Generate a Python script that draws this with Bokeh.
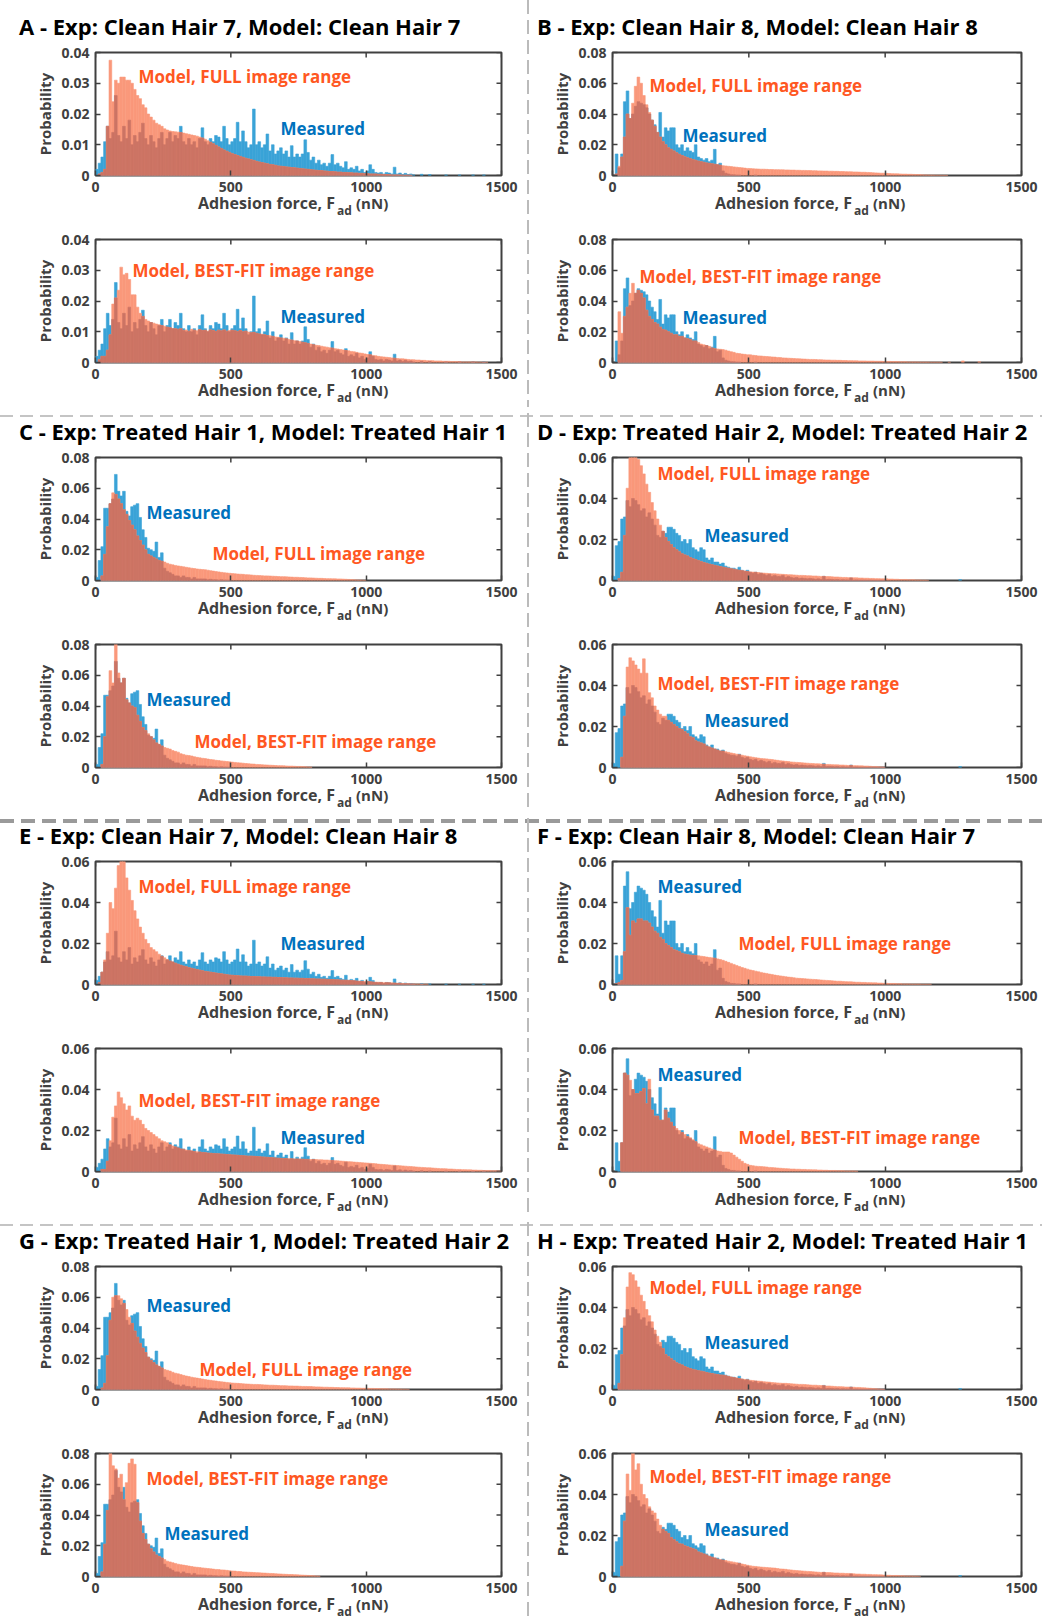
import numpy as np
from bokeh.plotting import figure
from bokeh.layouts import column, row
from bokeh.models import Label, Div, FixedTicker, PrintfTickFormatter, Range1d
from bokeh.embed import file_html
from bokeh.resources import INLINE

# ---------------- data (probability per 10 nN bin, first bin starts at 0 nN) ----------------
BIN_WIDTH = 10.0
N_BINS = 150
X_TICKS = [0, 500, 1000, 1500]
Y_TICKS_004 = [0, 0.01, 0.02, 0.03, 0.04]
Y_TICKS_006 = [0, 0.02, 0.04, 0.06]
Y_TICKS_008 = [0, 0.02, 0.04, 0.06, 0.08]

measured_clean_hair_7 = [
    0.002, 0.004, 0.006, 0.011, 0.016, 0.012, 0.014, 0.026, 0.013, 0.011,
    0.016, 0.012, 0.018, 0.010, 0.013, 0.011, 0.014, 0.017, 0.012, 0.010,
    0.013, 0.011, 0.009, 0.012, 0.014, 0.010, 0.012, 0.014, 0.011, 0.013,
    0.012, 0.016, 0.011, 0.010, 0.012, 0.010, 0.011, 0.009, 0.012, 0.0155,
    0.011, 0.010, 0.012, 0.011, 0.013, 0.0125, 0.011, 0.016, 0.012, 0.010,
    0.011, 0.012, 0.0173, 0.011, 0.0145, 0.011, 0.009, 0.010, 0.0216, 0.010,
    0.011, 0.009, 0.010, 0.0135, 0.008, 0.010, 0.007, 0.008, 0.009, 0.007,
    0.008, 0.006, 0.0097, 0.006, 0.007, 0.006, 0.007, 0.0116, 0.0075, 0.005,
    0.006, 0.004, 0.005, 0.0035, 0.004, 0.003, 0.004, 0.0068, 0.0035, 0.004,
    0.003, 0.0025, 0.0045, 0.002, 0.0025, 0.002, 0.003, 0.0015, 0.002, 0.001,
    0.0015, 0.0035, 0.002, 0.001, 0.0008, 0.001, 0.0005, 0.001, 0.0008, 0.0005,
    0.0027, 0.0005, 0.0008, 0.0003, 0.0007, 0.0003, 0.0005, 0.0002, 0.0, 0.0,
    0.0004, 0.0, 0.0, 0.0003, 0.0, 0.0, 0.0, 0.0, 0.0, 0.0002,
    0.0, 0.0, 0.0, 0.0, 0.0002, 0.0, 0.0, 0.0, 0.0, 0.0002,
    0.0, 0.0, 0.0, 0.0002]

measured_clean_hair_8 = [
    0.0, 0.014, 0.005, 0.014, 0.048, 0.055, 0.037, 0.040, 0.045, 0.048,
    0.047, 0.046, 0.044, 0.040, 0.036, 0.033, 0.028, 0.041, 0.025, 0.031,
    0.029, 0.031, 0.031, 0.020, 0.018, 0.020, 0.016, 0.018, 0.016, 0.015,
    0.020, 0.012, 0.011, 0.010, 0.011, 0.009, 0.010, 0.017, 0.007, 0.008,
    0.003, 0.0015, 0.001, 0.0005, 0.0005, 0.0003, 0.0003, 0.0, 0.0, 0.0,
    0.0, 0.0, 0.0003]

measured_treated_hair_1 = [
    0.002, 0.013, 0.022, 0.047, 0.047, 0.050, 0.053, 0.069, 0.058, 0.055,
    0.058, 0.045, 0.042, 0.048, 0.049, 0.050, 0.041, 0.033, 0.028, 0.021,
    0.020, 0.019, 0.025, 0.015, 0.018, 0.008, 0.006, 0.005, 0.004, 0.003,
    0.003, 0.002, 0.003, 0.002, 0.002, 0.001, 0.002, 0.001, 0.001, 0.001,
    0.001, 0.0005, 0.0008, 0.0005, 0.0005, 0.0003, 0.0005, 0.0003, 0.0003, 0.0002]

measured_treated_hair_2 = [
    0.002, 0.017, 0.019, 0.030, 0.031, 0.039, 0.036, 0.040, 0.039, 0.037,
    0.034, 0.035, 0.031, 0.033, 0.030, 0.027, 0.022, 0.021, 0.024, 0.023,
    0.026, 0.026, 0.025, 0.023, 0.022, 0.019, 0.020, 0.018, 0.020, 0.016,
    0.015, 0.014, 0.016, 0.015, 0.011, 0.010, 0.011, 0.009, 0.009, 0.008,
    0.0085, 0.007, 0.0065, 0.006, 0.006, 0.0055, 0.0065, 0.005, 0.0045, 0.005,
    0.004, 0.0035, 0.004, 0.003, 0.0035, 0.003, 0.0025, 0.003, 0.002, 0.0025,
    0.002, 0.002, 0.0025, 0.0015, 0.002, 0.0015, 0.0012, 0.0015, 0.001, 0.0012,
    0.001, 0.0008, 0.001, 0.0008, 0.0006, 0.0008, 0.0005, 0.002, 0.0005, 0.0006,
    0.0005, 0.0004, 0.0005, 0.0003, 0.0004, 0.0003, 0.0003, 0.0012, 0.0002, 0.0003,
    0.0002, 0.0002, 0.0002, 0.0001, 0.0002, 0.0001, 0.0001, 0.0001, 0.0001, 0.0001,
    0.0, 0.0, 0.0, 0.0, 0.0, 0.0, 0.0, 0.0, 0.0, 0.0,
    0.0, 0.0, 0.0, 0.0, 0.0, 0.0, 0.0, 0.0, 0.0, 0.0,
    0.0, 0.0, 0.0, 0.0, 0.0, 0.0, 0.0, 0.0005]

model_full_clean_hair_7 = [
    0.0, 0.0005, 0.001, 0.002, 0.016, 0.0375, 0.024, 0.031, 0.030, 0.032,
    0.032, 0.031, 0.031, 0.030, 0.028, 0.026, 0.025, 0.023, 0.022, 0.020,
    0.019, 0.018, 0.017, 0.0165, 0.016, 0.0152, 0.0148, 0.0145, 0.0143, 0.0142,
    0.0141, 0.014, 0.0138, 0.0136, 0.0134, 0.0132, 0.013, 0.0128, 0.0125, 0.0122,
    0.0118, 0.0113, 0.0108, 0.0103, 0.0098, 0.0093, 0.0088, 0.0083, 0.0079, 0.0075,
    0.0071, 0.0068, 0.0065, 0.0062, 0.0059, 0.0056, 0.0054, 0.0051, 0.0049, 0.0046,
    0.0044, 0.0042, 0.004, 0.0038, 0.0036, 0.0035, 0.0033, 0.0031, 0.003, 0.0029,
    0.0028, 0.0027, 0.0026, 0.0025, 0.0024, 0.0023, 0.0022, 0.0021, 0.002, 0.0019,
    0.0018, 0.0017, 0.0016, 0.0016, 0.0015, 0.0014, 0.0013, 0.0013, 0.0012, 0.0011,
    0.0011, 0.001, 0.001, 0.0009, 0.0009, 0.0008, 0.0008, 0.0007, 0.0007, 0.0006,
    0.0006, 0.0005, 0.0005, 0.0005, 0.0004, 0.0004, 0.0003, 0.0003, 0.0003, 0.0002,
    0.0002, 0.0002, 0.0002, 0.0001, 0.0001, 0.0001, 0.0001]

model_full_clean_hair_8 = [
    0.0, 0.001, 0.006, 0.012, 0.025, 0.040, 0.037, 0.047, 0.058, 0.064,
    0.060, 0.052, 0.046, 0.041, 0.036, 0.032, 0.028, 0.025, 0.022, 0.020,
    0.018, 0.017, 0.016, 0.0148, 0.0138, 0.013, 0.0122, 0.0115, 0.011, 0.0104,
    0.0099, 0.0094, 0.009, 0.0086, 0.0082, 0.0079, 0.0076, 0.0073, 0.007, 0.0067,
    0.0064, 0.0062, 0.006, 0.0058, 0.0056, 0.0054, 0.0052, 0.005, 0.0048, 0.0046,
    0.0045, 0.0044, 0.0043, 0.0042, 0.0041, 0.0041, 0.004, 0.0039, 0.0039, 0.0038,
    0.0038, 0.0037, 0.0037, 0.0036, 0.0036, 0.0035, 0.0035, 0.0034, 0.0034, 0.0033,
    0.0033, 0.0032, 0.0032, 0.0031, 0.0031, 0.003, 0.003, 0.0029, 0.0029, 0.0028,
    0.0028, 0.0027, 0.0027, 0.0026, 0.0026, 0.0025, 0.0024, 0.0024, 0.0023, 0.0023,
    0.0022, 0.0021, 0.0021, 0.002, 0.0019, 0.0018, 0.0017, 0.0016, 0.0015, 0.0015,
    0.0014, 0.0013, 0.0012, 0.0011, 0.0011, 0.001, 0.0009, 0.0009, 0.0008, 0.0008,
    0.0007, 0.0006, 0.0006, 0.0005, 0.0004, 0.0004, 0.0003, 0.0003, 0.0002, 0.0002,
    0.0001, 0.0001, 0.0001]

model_full_treated_hair_1 = [
    0.0, 0.0, 0.003, 0.017, 0.035, 0.050, 0.057, 0.056, 0.053, 0.050,
    0.046, 0.043, 0.039, 0.036, 0.033, 0.029, 0.026, 0.023, 0.020, 0.017,
    0.016, 0.015, 0.014, 0.013, 0.0125, 0.012, 0.0112, 0.0106, 0.0102, 0.0098,
    0.0095, 0.0092, 0.0089, 0.0086, 0.0083, 0.008, 0.0078, 0.0075, 0.0073, 0.0071,
    0.007, 0.0067, 0.0064, 0.0061, 0.0058, 0.0056, 0.0053, 0.0051, 0.0049, 0.0047,
    0.0045, 0.0044, 0.0042, 0.0041, 0.004, 0.0038, 0.0037, 0.0036, 0.0034, 0.0033,
    0.0032, 0.0031, 0.003, 0.003, 0.0029, 0.0028, 0.0027, 0.0026, 0.0025, 0.0025,
    0.0024, 0.0023, 0.0022, 0.0021, 0.0021, 0.002, 0.0019, 0.0018, 0.0017, 0.0017,
    0.0016, 0.0015, 0.0014, 0.0014, 0.0013, 0.0012, 0.0012, 0.0011, 0.0011, 0.001,
    0.001, 0.0009, 0.0008, 0.0007, 0.0006, 0.0005, 0.0004, 0.0003, 0.0002, 0.0001]

model_full_treated_hair_2 = [
    0.0, 0.0, 0.001, 0.004, 0.022, 0.045, 0.060, 0.061, 0.061, 0.059,
    0.056, 0.052, 0.047, 0.043, 0.038, 0.034, 0.030, 0.027, 0.024, 0.021,
    0.019, 0.0175, 0.016, 0.015, 0.014, 0.013, 0.0125, 0.012, 0.0112, 0.0106,
    0.0102, 0.0097, 0.0092, 0.0088, 0.0084, 0.008, 0.0077, 0.0074, 0.0071, 0.0068,
    0.0065, 0.0062, 0.006, 0.0057, 0.0055, 0.0052, 0.005, 0.0048, 0.0046, 0.0044,
    0.0042, 0.0041, 0.004, 0.0039, 0.0037, 0.0036, 0.0035, 0.0034, 0.0033, 0.0033,
    0.0032, 0.0031, 0.003, 0.0029, 0.0028, 0.0028, 0.0027, 0.0026, 0.0025, 0.0025,
    0.0024, 0.0023, 0.0023, 0.0022, 0.0022, 0.0021, 0.002, 0.002, 0.0019, 0.0019,
    0.0018, 0.0017, 0.0017, 0.0016, 0.0015, 0.0015, 0.0014, 0.0014, 0.0013, 0.0013,
    0.0012, 0.0012, 0.0011, 0.0011, 0.001, 0.001, 0.0009, 0.0009, 0.0008, 0.0008,
    0.0008, 0.0007, 0.0007, 0.0006, 0.0006, 0.0005, 0.0005, 0.0005, 0.0004, 0.0004,
    0.0004, 0.0003, 0.0003, 0.0002, 0.0002, 0.0001]

model_bestfit_a = [
    0.0, 0.001, 0.002, 0.002, 0.004, 0.009, 0.019, 0.021, 0.0235, 0.031,
    0.0285, 0.029, 0.027, 0.022, 0.022, 0.018, 0.016, 0.015, 0.014, 0.0135,
    0.013, 0.0128, 0.0125, 0.0123, 0.012, 0.0118, 0.0115, 0.0113, 0.011, 0.011,
    0.0108, 0.011, 0.0104, 0.0106, 0.0102, 0.0108, 0.0105, 0.0103, 0.0107, 0.0104,
    0.0105, 0.0102, 0.0106, 0.0104, 0.0101, 0.0105, 0.0103, 0.0106, 0.0102, 0.0104,
    0.0105, 0.0103, 0.0101, 0.0104, 0.01, 0.0102, 0.0099, 0.0097, 0.0098, 0.0095,
    0.0093, 0.0092, 0.009, 0.0088, 0.0087, 0.0085, 0.0083, 0.0082, 0.008, 0.0079,
    0.0077, 0.0075, 0.0073, 0.0071, 0.007, 0.0068, 0.0066, 0.0064, 0.0062, 0.006,
    0.0058, 0.0056, 0.0055, 0.0053, 0.0051, 0.005, 0.0048, 0.0047, 0.0045, 0.0044,
    0.0042, 0.0041, 0.0039, 0.0038, 0.0036, 0.0035, 0.0033, 0.0031, 0.003, 0.0028,
    0.0026, 0.0025, 0.0023, 0.0022, 0.002, 0.0019, 0.0018, 0.0017, 0.0016, 0.0015,
    0.0014, 0.0013, 0.0012, 0.0012, 0.0011, 0.001, 0.0009, 0.0009, 0.0008, 0.0008,
    0.0007, 0.0007, 0.0006, 0.0006, 0.0006, 0.0005, 0.0005, 0.0005, 0.0004, 0.0004,
    0.0004, 0.0003, 0.0003, 0.0003, 0.0003, 0.0002, 0.0002, 0.0002, 0.0002, 0.0002,
    0.0002, 0.0001, 0.0001, 0.0001, 0.0001]

model_bestfit_b = [
    0.0, 0.0, 0.033, 0.019, 0.030, 0.036, 0.045, 0.0515, 0.045, 0.047,
    0.045, 0.042, 0.034, 0.030, 0.028, 0.026, 0.025, 0.023, 0.0215, 0.021,
    0.020, 0.019, 0.018, 0.018, 0.017, 0.017, 0.016, 0.0155, 0.015, 0.014,
    0.014, 0.013, 0.012, 0.0115, 0.011, 0.0105, 0.0095, 0.009, 0.0088, 0.0086,
    0.0084, 0.008, 0.0075, 0.007, 0.0066, 0.006, 0.0058, 0.0055, 0.0053, 0.005,
    0.005, 0.0047, 0.0045, 0.0043, 0.0042, 0.004, 0.0039, 0.0038, 0.0036, 0.0035,
    0.0033, 0.0032, 0.003, 0.0029, 0.0028, 0.0027, 0.0026, 0.0025, 0.0024, 0.0023,
    0.0022, 0.0021, 0.002, 0.002, 0.0019, 0.0018, 0.0018, 0.0017, 0.0016, 0.0016,
    0.0015, 0.0015, 0.0014, 0.0014, 0.0013, 0.0013, 0.0012, 0.0012, 0.0011, 0.0011,
    0.001, 0.001, 0.001, 0.0009, 0.0009, 0.0009, 0.0008, 0.0008, 0.0008, 0.0007,
    0.0007, 0.0007, 0.0006, 0.0006, 0.0006, 0.0005, 0.0005, 0.0005, 0.0004, 0.0004,
    0.0004, 0.0004, 0.0003, 0.0003, 0.0003, 0.0003, 0.0002, 0.0002, 0.0002, 0.0002,
    0.0002, 0.0, 0.0, 0.0002, 0.0, 0.0, 0.0, 0.0, 0.001, 0.0,
    0.0, 0.0, 0.0, 0.0, 0.0005]

model_bestfit_c = [
    0.0, 0.0, 0.002, 0.020, 0.046, 0.063, 0.055, 0.082, 0.0615, 0.055,
    0.058, 0.044, 0.042, 0.040, 0.039, 0.034, 0.030, 0.026, 0.024, 0.022,
    0.020, 0.018, 0.016, 0.015, 0.014, 0.013, 0.0125, 0.012, 0.011, 0.0105,
    0.010, 0.009, 0.0085, 0.008, 0.0078, 0.0075, 0.007, 0.0066, 0.0063, 0.006,
    0.0058, 0.0055, 0.0052, 0.005, 0.0047, 0.0045, 0.0043, 0.0041, 0.0039, 0.0037,
    0.0035, 0.0033, 0.0031, 0.003, 0.0028, 0.0026, 0.0025, 0.0023, 0.0022, 0.002,
    0.0019, 0.0018, 0.0017, 0.0016, 0.0015, 0.0014, 0.0013, 0.0012, 0.0012, 0.0011,
    0.001, 0.0009, 0.0009, 0.0008, 0.0007, 0.0007, 0.0006, 0.0005, 0.0004, 0.0003]

model_bestfit_d = [
    0.0, 0.0, 0.0, 0.005, 0.025, 0.049, 0.0535, 0.052, 0.050, 0.048,
    0.046, 0.053, 0.046, 0.0365, 0.034, 0.030, 0.028, 0.026, 0.025, 0.025,
    0.023, 0.022, 0.021, 0.020, 0.019, 0.0185, 0.0175, 0.0165, 0.015, 0.0145,
    0.013, 0.0125, 0.012, 0.0115, 0.0105, 0.010, 0.0095, 0.009, 0.0085, 0.008,
    0.008, 0.0077, 0.0074, 0.0071, 0.0068, 0.0065, 0.0062, 0.006, 0.0057, 0.0055,
    0.0052, 0.005, 0.0048, 0.0046, 0.0044, 0.0043, 0.0042, 0.004, 0.0039, 0.0037,
    0.0035, 0.0033, 0.0032, 0.003, 0.0029, 0.0027, 0.0026, 0.0025, 0.0024, 0.0023,
    0.0022, 0.0021, 0.002, 0.0019, 0.0018, 0.0018, 0.0017, 0.0016, 0.0015, 0.0015,
    0.0014, 0.0013, 0.0013, 0.0012, 0.0012, 0.0011, 0.001, 0.001, 0.0009, 0.0009,
    0.0008, 0.0008, 0.0007, 0.0007, 0.0006, 0.0005, 0.0005, 0.0004, 0.0003, 0.0002]

model_bestfit_e = [
    0.0, 0.0, 0.001, 0.001, 0.005, 0.015, 0.0265, 0.032, 0.0388, 0.036,
    0.033, 0.030, 0.032, 0.027, 0.025, 0.026, 0.025, 0.023, 0.021, 0.020,
    0.019, 0.018, 0.017, 0.016, 0.015, 0.0145, 0.014, 0.013, 0.0125, 0.012,
    0.0115, 0.011, 0.0108, 0.0105, 0.0103, 0.01, 0.0098, 0.0096, 0.0095, 0.0093,
    0.0092, 0.009, 0.0089, 0.0088, 0.0087, 0.0086, 0.0085, 0.0084, 0.0083, 0.0082,
    0.0081, 0.008, 0.0079, 0.0078, 0.0077, 0.0076, 0.0075, 0.0075, 0.0074, 0.0073,
    0.0072, 0.0071, 0.007, 0.0069, 0.0068, 0.0067, 0.0066, 0.0065, 0.0064, 0.0063,
    0.0063, 0.0062, 0.0062, 0.0061, 0.0061, 0.006, 0.006, 0.0059, 0.0059, 0.0058,
    0.0058, 0.0058, 0.0057, 0.0057, 0.0056, 0.0056, 0.0055, 0.0054, 0.0053, 0.0052,
    0.0051, 0.005, 0.0049, 0.0048, 0.0047, 0.0046, 0.0045, 0.0044, 0.0043, 0.0042,
    0.0041, 0.004, 0.0039, 0.0038, 0.0036, 0.0035, 0.0034, 0.0033, 0.0032, 0.0031,
    0.003, 0.0029, 0.0028, 0.0027, 0.0026, 0.0025, 0.0024, 0.0023, 0.0022, 0.0021,
    0.002, 0.0019, 0.0018, 0.0018, 0.0017, 0.0016, 0.0015, 0.0014, 0.0014, 0.0013,
    0.0012, 0.0012, 0.0011, 0.001, 0.001, 0.0009, 0.0009, 0.0008, 0.0008, 0.0007,
    0.0007, 0.0006, 0.0006, 0.0005, 0.0005, 0.0005, 0.0004, 0.0004, 0.0004, 0.0003]

model_bestfit_f = [
    0.0, 0.0, 0.0, 0.014, 0.048, 0.047, 0.0445, 0.040, 0.038, 0.038,
    0.039, 0.0405, 0.033, 0.045, 0.030, 0.027, 0.027, 0.025, 0.025, 0.030,
    0.026, 0.024, 0.022, 0.021, 0.020, 0.019, 0.018, 0.017, 0.0165, 0.0155,
    0.0145, 0.0135, 0.013, 0.0125, 0.012, 0.0115, 0.011, 0.0105, 0.010, 0.0098,
    0.0095, 0.0095, 0.0095, 0.009, 0.008, 0.007, 0.006, 0.005, 0.004, 0.0035,
    0.003, 0.0028, 0.0026, 0.0025, 0.0024, 0.0023, 0.0022, 0.002, 0.0019, 0.0018,
    0.0017, 0.0016, 0.0015, 0.0014, 0.0013, 0.0012, 0.0012, 0.0011, 0.0011, 0.001,
    0.001, 0.0009, 0.0009, 0.0008, 0.0008, 0.0007, 0.0007, 0.0006, 0.0006, 0.0005,
    0.0005, 0.0005, 0.0004, 0.0004, 0.0004, 0.0003, 0.0003, 0.0003, 0.0003, 0.0002]

model_bestfit_g = [
    0.0, 0.0, 0.003, 0.021, 0.043, 0.082, 0.072, 0.070, 0.064, 0.0665,
    0.050, 0.061, 0.0736, 0.0765, 0.073, 0.048, 0.036, 0.028, 0.024, 0.021,
    0.018, 0.016, 0.014, 0.013, 0.012, 0.011, 0.010, 0.0095, 0.009, 0.0085,
    0.008, 0.0077, 0.0074, 0.0071, 0.0068, 0.0065, 0.0062, 0.006, 0.0058, 0.0056,
    0.0054, 0.0052, 0.005, 0.0048, 0.0046, 0.0045, 0.0043, 0.0042, 0.004, 0.0038,
    0.0036, 0.0035, 0.0033, 0.0032, 0.003, 0.0029, 0.0028, 0.0027, 0.0026, 0.0025,
    0.0024, 0.0023, 0.0022, 0.0021, 0.002, 0.0019, 0.0018, 0.0017, 0.0016, 0.0015,
    0.0014, 0.0013, 0.0013, 0.0012, 0.0011, 0.001, 0.0009, 0.0008, 0.0007, 0.0006,
    0.0005, 0.0004, 0.0003]

model_bestfit_h = [
    0.0, 0.0, 0.0, 0.005, 0.027, 0.050, 0.042, 0.062, 0.052, 0.055,
    0.045, 0.040, 0.038, 0.034, 0.032, 0.031, 0.028, 0.025, 0.023, 0.022,
    0.021, 0.019, 0.018, 0.017, 0.016, 0.0158, 0.015, 0.0145, 0.014, 0.0135,
    0.013, 0.012, 0.0115, 0.011, 0.0105, 0.0098, 0.0094, 0.009, 0.0085, 0.0082,
    0.008, 0.0078, 0.0075, 0.0072, 0.007, 0.0067, 0.0064, 0.0061, 0.0058, 0.0055,
    0.0052, 0.005, 0.0049, 0.0047, 0.0046, 0.0045, 0.0044, 0.0043, 0.0042, 0.0041,
    0.0039, 0.0037, 0.0036, 0.0035, 0.0033, 0.0032, 0.003, 0.0029, 0.0028, 0.0027,
    0.0026, 0.0025, 0.0024, 0.0023, 0.0022, 0.0021, 0.002, 0.002, 0.0019, 0.0019,
    0.0018, 0.0017, 0.0017, 0.0016, 0.0016, 0.0015, 0.0015, 0.0014, 0.0013, 0.0012,
    0.0012, 0.0011, 0.0011, 0.001, 0.001, 0.0009, 0.0009, 0.0008, 0.0008, 0.0007,
    0.0006, 0.0006, 0.0005, 0.0005, 0.0005, 0.0004, 0.0004, 0.0003, 0.0003, 0.0003,
    0.0002, 0.0002, 0.0001]

# ---------------- styling ----------------
FONT = "Open Sans"
AX = "#404040"
BLUE = "#3AA3D7"
SALMON = "#FA987B"
OVERLAP = "#CC7464"
MODEL_TXT = "#FF5722"
MEAS_TXT = "#0072BD"
FRAME_H = 123
COLS = [(95, 406, 25), (82, 409, 21)]  # left border, frame width, right border
TITLE_X = [19, 7]
MODEL_FULL = "Model, FULL image range"
MODEL_BEST = "Model, BEST-FIT image range"
MEASURED = "Measured"
ASC = 0.888  # baseline position inside a line box of line-height 1 (Open Sans)


def padded(vals):
    a = np.zeros(N_BINS)
    a[:len(vals)] = vals
    return a


def style_axis(ax):
    ax.axis_line_color = None
    ax.major_tick_in = 5
    ax.major_tick_out = 0
    ax.major_tick_line_color = AX
    ax.major_tick_line_width = 1.5
    ax.minor_tick_line_color = None
    ax.major_label_text_font = FONT
    ax.major_label_text_font_style = "bold"
    ax.major_label_text_color = AX
    ax.major_label_text_font_size = "14px"
    ax.major_label_standoff = 6


def make_panel(measured, model, ymax, yticks, col, top_border, bottom_border, texts):
    bl, fw, br = COLS[col]
    p = figure(width=bl + fw + br, height=top_border + FRAME_H + bottom_border,
               x_range=Range1d(0, 1500), y_range=Range1d(0, ymax),
               output_backend="svg", toolbar_location=None,
               min_border_left=bl, min_border_right=br,
               min_border_top=top_border, min_border_bottom=bottom_border,
               background_fill_color="white", border_fill_color="white")
    p.grid.visible = False
    p.outline_line_color = AX
    p.outline_line_width = 2

    m = padded(measured)
    d = padded(model)
    ov = np.minimum(m, d)
    left = np.arange(N_BINS) * BIN_WIDTH
    right = left + BIN_WIDTH
    for vals, c in ((m, BLUE), (d, SALMON), (ov, OVERLAP)):
        k = vals > 0
        p.quad(left=left[k], right=right[k], bottom=0, top=vals[k],
               fill_color=c, line_color=c, line_width=0.6)

    xa = p.xaxis[0]
    ya = p.yaxis[0]
    xa.ticker = FixedTicker(ticks=X_TICKS)
    ya.ticker = FixedTicker(ticks=yticks)
    ya.formatter = PrintfTickFormatter(format="%.2f")
    ya.major_label_overrides = {0: "0"}
    style_axis(xa)
    style_axis(ya)
    ya.axis_label = "Probability"
    ya.axis_label_text_font = FONT
    ya.axis_label_text_font_style = "bold"
    ya.axis_label_text_font_size = "15px"
    ya.axis_label_text_color = AX
    ya.axis_label_standoff = 3

    sx = 1500.0 / fw
    sy = ymax / FRAME_H
    # inward ticks on the top and right edges of the box
    p.segment(x0=X_TICKS, y0=[ymax] * len(X_TICKS), x1=X_TICKS,
              y1=[ymax - 5 * sy] * len(X_TICKS), line_color=AX, line_width=1.5)
    p.segment(x0=[1500] * len(yticks), y0=yticks, x1=[1500 - 5 * sx] * len(yticks),
              y1=yticks, line_color=AX, line_width=1.5)

    for text, px, py in texts:
        color = MEAS_TXT if text == MEASURED else MODEL_TXT
        p.add_layout(Label(x=px * sx, y=py * sy, text=text, text_font=FONT,
                           text_font_style="bold", text_font_size="17px",
                           text_color=color, text_align="left", text_baseline="middle"))
    return p


def span_html(text, size, color, top, left=None, right=None):
    pos = f"left:{left}px;" if left is not None else f"right:{right}px;"
    return (f'<span style="position:absolute;{pos}top:{top:.1f}px;'
            f"font-family:'Open Sans';font-weight:bold;font-size:{size}px;line-height:1;"
            f'color:{color};white-space:nowrap">{text}</span>')


def box_div(width, height, inner):
    html = (f'<div style="position:relative;width:{width}px;height:{height}px;'
            f'overflow:visible;margin:0;padding:0">{inner}</div>')
    return Div(text=html, width=width, height=height, margin=0,
               styles={"overflow": "visible"})


def xlabel_div(col, height):
    bl, fw, br = COLS[col]
    w = bl + fw + br
    base = 10  # baseline 34 px below the frame (div starts 24 px below it)
    inner = (span_html("Adhesion force, F", 16, AX, base - ASC * 16, right=w - (bl + 240)) +
             span_html("ad", 12, AX, base + 7 - ASC * 12, left=bl + 242) +
             span_html("(nN)", 15, AX, base - ASC * 15, left=bl + 261))
    return box_div(w, height, inner)


def title_div(col, height, title):
    bl, fw, br = COLS[col]
    w = bl + fw + br
    base = height - (18 - PANEL_TOP)  # baseline 18 px above the frame
    return box_div(w, height, span_html(title, 22, "#000000", base - ASC * 22, left=TITLE_X[col]))


def hsep_div(height, color, thickness, dash, gap):
    inner = (f'<div style="position:absolute;left:0;top:{(height - thickness) / 2:.1f}px;'
             f'width:1042px;height:{thickness}px;background:repeating-linear-gradient(to right,'
             f'{color} 0px,{color} {dash}px,transparent {dash}px,transparent {dash + gap}px)"></div>')
    return box_div(1042, height, inner)


def vsep_div(height):
    inner = (f'<div style="position:absolute;left:1px;top:0;width:2px;height:{height}px;'
             f'background:repeating-linear-gradient(to bottom,#BBBBBB 0px,#BBBBBB 14px,'
             f'transparent 14px,transparent 20px)"></div>')
    return box_div(4, height, inner)


panels = [
    dict(title="A - Exp: Clean Hair 7, Model: Clean Hair 7", ymax=0.04, yt=Y_TICKS_004,
         meas=measured_clean_hair_7, full=model_full_clean_hair_7, best=model_bestfit_a,
         t_top=[(MODEL_FULL, 43, 99), (MEASURED, 185, 47)],
         t_bot=[(MODEL_BEST, 37, 92), (MEASURED, 185, 46)]),
    dict(title="B - Exp: Clean Hair 8, Model: Clean Hair 8", ymax=0.08, yt=Y_TICKS_008,
         meas=measured_clean_hair_8, full=model_full_clean_hair_8, best=model_bestfit_b,
         t_top=[(MODEL_FULL, 37, 90), (MEASURED, 70, 40)],
         t_bot=[(MODEL_BEST, 27, 86), (MEASURED, 70, 45)]),
    dict(title="C - Exp: Treated Hair 1, Model: Treated Hair 1", ymax=0.08, yt=Y_TICKS_008,
         meas=measured_treated_hair_1, full=model_full_treated_hair_1, best=model_bestfit_c,
         t_top=[(MEASURED, 51, 68), (MODEL_FULL, 117, 27)],
         t_bot=[(MEASURED, 51, 68), (MODEL_BEST, 99, 26)]),
    dict(title="D - Exp: Treated Hair 2, Model: Treated Hair 2", ymax=0.06, yt=Y_TICKS_006,
         meas=measured_treated_hair_2, full=model_full_treated_hair_2, best=model_bestfit_d,
         t_top=[(MODEL_FULL, 45, 107), (MEASURED, 92, 45)],
         t_bot=[(MODEL_BEST, 45, 84), (MEASURED, 92, 47)]),
    dict(title="E - Exp: Clean Hair 7, Model: Clean Hair 8", ymax=0.06, yt=Y_TICKS_006,
         meas=measured_clean_hair_7, full=model_full_clean_hair_8, best=model_bestfit_e,
         t_top=[(MODEL_FULL, 43, 98), (MEASURED, 185, 41)],
         t_bot=[(MODEL_BEST, 43, 71), (MEASURED, 185, 34)]),
    dict(title="F - Exp: Clean Hair 8, Model: Clean Hair 7", ymax=0.06, yt=Y_TICKS_006,
         meas=measured_clean_hair_8, full=model_full_clean_hair_7, best=model_bestfit_f,
         t_top=[(MEASURED, 45, 98), (MODEL_FULL, 126, 41)],
         t_bot=[(MEASURED, 45, 97), (MODEL_BEST, 126, 34)]),
    dict(title="G - Exp: Treated Hair 1, Model: Treated Hair 2", ymax=0.08, yt=Y_TICKS_008,
         meas=measured_treated_hair_1, full=model_full_treated_hair_2, best=model_bestfit_g,
         t_top=[(MEASURED, 51, 84), (MODEL_FULL, 104, 20)],
         t_bot=[(MODEL_BEST, 51, 98), (MEASURED, 69, 43)]),
    dict(title="H - Exp: Treated Hair 2, Model: Treated Hair 1", ymax=0.06, yt=Y_TICKS_006,
         meas=measured_treated_hair_2, full=model_full_treated_hair_1, best=model_bestfit_h,
         t_top=[(MODEL_FULL, 37, 102), (MEASURED, 92, 47)],
         t_bot=[(MODEL_BEST, 37, 100), (MEASURED, 92, 47)]),
]

TOP_BORDERS = [52, 44, 43, 44]      # page space above each block's upper frame
BOTTOM_BORDERS = [45, 45, 45, 44]   # space below each block's lower frame
PANEL_TOP = 11
TICK_AREA = 24
XLABEL_H = 26
GAP = 14

children = []
for b in range(4):
    tb = TOP_BORDERS[b]
    bb = BOTTOM_BORDERS[b]
    cols = []
    for c in range(2):
        cfg = panels[2 * b + c]
        top = make_panel(cfg["meas"], cfg["full"], cfg["ymax"], cfg["yt"], c,
                         PANEL_TOP, TICK_AREA, cfg["t_top"])
        bot = make_panel(cfg["meas"], cfg["best"], cfg["ymax"], cfg["yt"], c,
                         GAP, TICK_AREA, cfg["t_bot"])
        cols.append(column(title_div(c, tb - PANEL_TOP, cfg["title"]),
                           top,
                           xlabel_div(c, XLABEL_H),
                           bot,
                           xlabel_div(c, bb - TICK_AREA)))
    block_h = tb + FRAME_H + TICK_AREA + XLABEL_H + GAP + FRAME_H + bb
    children.append(row(cols[0], vsep_div(block_h), cols[1]))
    if b == 0 or b == 2:
        children.append(hsep_div(6, "#C4C4C4", 2, 13, 7))
    elif b == 1:
        children.append(hsep_div(6, "#9A9A9A", 4, 14, 7))

page = column(*children)
open("out.html", "w").write(file_html(page, INLINE))
